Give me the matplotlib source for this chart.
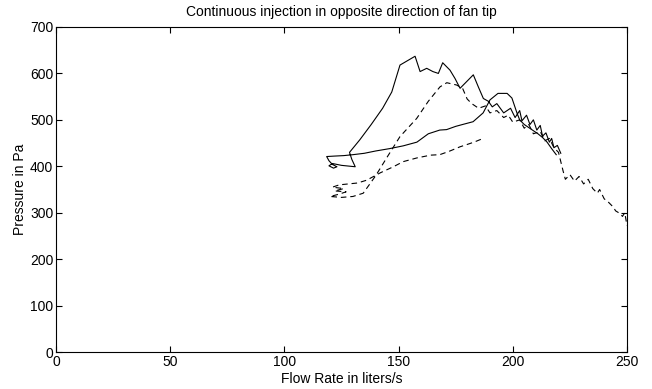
import matplotlib
matplotlib.use("Agg")
import matplotlib.pyplot as plt

plt.rcParams['font.family'] = ['Liberation Sans', 'DejaVu Sans']

title = "Continuous injection in opposite direction of fan tip"
xlabel = "Flow Rate in liters/s"
ylabel = "Pressure in Pa"
xticks = [0, 50, 100, 150, 200, 250]
yticks = [0, 100, 200, 300, 400, 500, 600, 700]

# Solid series (flow rate, pressure)
solid_x = [219, 217, 215, 213, 211, 208, 205, 203, 201.8, 199.6, 197.5, 193.5, 190, 187, 182.6,
           178, 175, 171, 168, 163, 158, 152, 146, 140, 135, 130, 126, 122, 118.5,
           119.5, 121, 123, 121.5, 119.5, 121, 125, 131, 129.5, 128.5, 133, 138, 143, 147,
           150.6, 157.2, 159.4, 162.3, 165, 167.4, 169.3, 172.5, 174.7, 176.9, 179.1, 182.7,
           184.9, 187.1, 189.3, 191, 193, 196, 199, 201, 203, 204, 206, 207.5, 209, 210.5,
           212, 213, 214.5, 216, 217, 218, 219.5, 221]
solid_y = [425, 438, 452, 462, 470, 480, 490, 500, 515, 547, 557, 557, 543, 515, 496,
           490, 486, 479, 478, 470, 452, 444, 438, 433, 428, 425, 423, 422, 421,
           412, 404, 399, 396, 401, 406, 402, 399, 415, 430, 457, 490, 525, 560,
           618, 637, 604, 611, 604, 600, 623, 607, 589, 568, 579, 597,
           571, 546, 540, 528, 535, 515, 525, 505, 520, 498, 510, 490, 500, 478,
           488, 465, 472, 452, 460, 440, 445, 428]

# Dashed series (flow rate, pressure)
dashed_x = [186, 183, 180, 176.9, 172, 168, 164, 158, 152, 147.7, 142, 136, 132, 128, 124,
            121, 126, 122, 127, 124, 120, 125, 130, 134.5, 140, 145, 150.6, 157.9, 163, 168.1,
            171.1, 175.4, 178, 180, 182, 185, 188, 190, 193, 196, 198, 200, 203, 205, 207,
            209, 212, 214, 216, 218, 220, 222, 223, 225, 227, 229, 231, 233, 235, 237, 238,
            240, 242, 244, 245, 247, 248, 249, 250]
dashed_y = [458, 452, 447, 442, 432, 425, 424, 418, 410, 399, 386, 370, 364, 362, 360,
            355, 352, 347, 345, 340, 335, 333, 335, 342, 380, 420, 464, 503, 540, 571,
            580, 575, 568, 545, 535, 525, 530, 515, 520, 505, 510, 495, 500, 482, 490,
            470, 475, 455, 460, 440, 430, 390, 372, 382, 368, 378, 362, 372, 352, 342, 350,
            330, 322, 312, 304, 298, 292, 300, 272]

fig = plt.figure(figsize=(6.52, 3.89), dpi=100)
ax = fig.add_axes([0.0859, 0.0951, 0.8758, 0.8355])
ax.plot(solid_x, solid_y, color='black', linewidth=0.8, linestyle='-')
ax.plot(dashed_x, dashed_y, color='black', linewidth=0.8, linestyle=(0, (5, 3.5)))

ax.set_xlim(0, 250)
ax.set_ylim(0, 700)
ax.set_xticks(xticks)
ax.set_yticks(yticks)
ax.tick_params(direction='in', length=4, width=0.8, top=True, right=True, labelsize=10, pad=2)
for s in ax.spines.values():
    s.set_linewidth(0.8)
ax.set_title(title, fontsize=10, pad=8)
ax.set_xlabel(xlabel, fontsize=10, labelpad=2)
ax.set_ylabel(ylabel, fontsize=10, labelpad=2)

fig.savefig("out.png", dpi=100)
